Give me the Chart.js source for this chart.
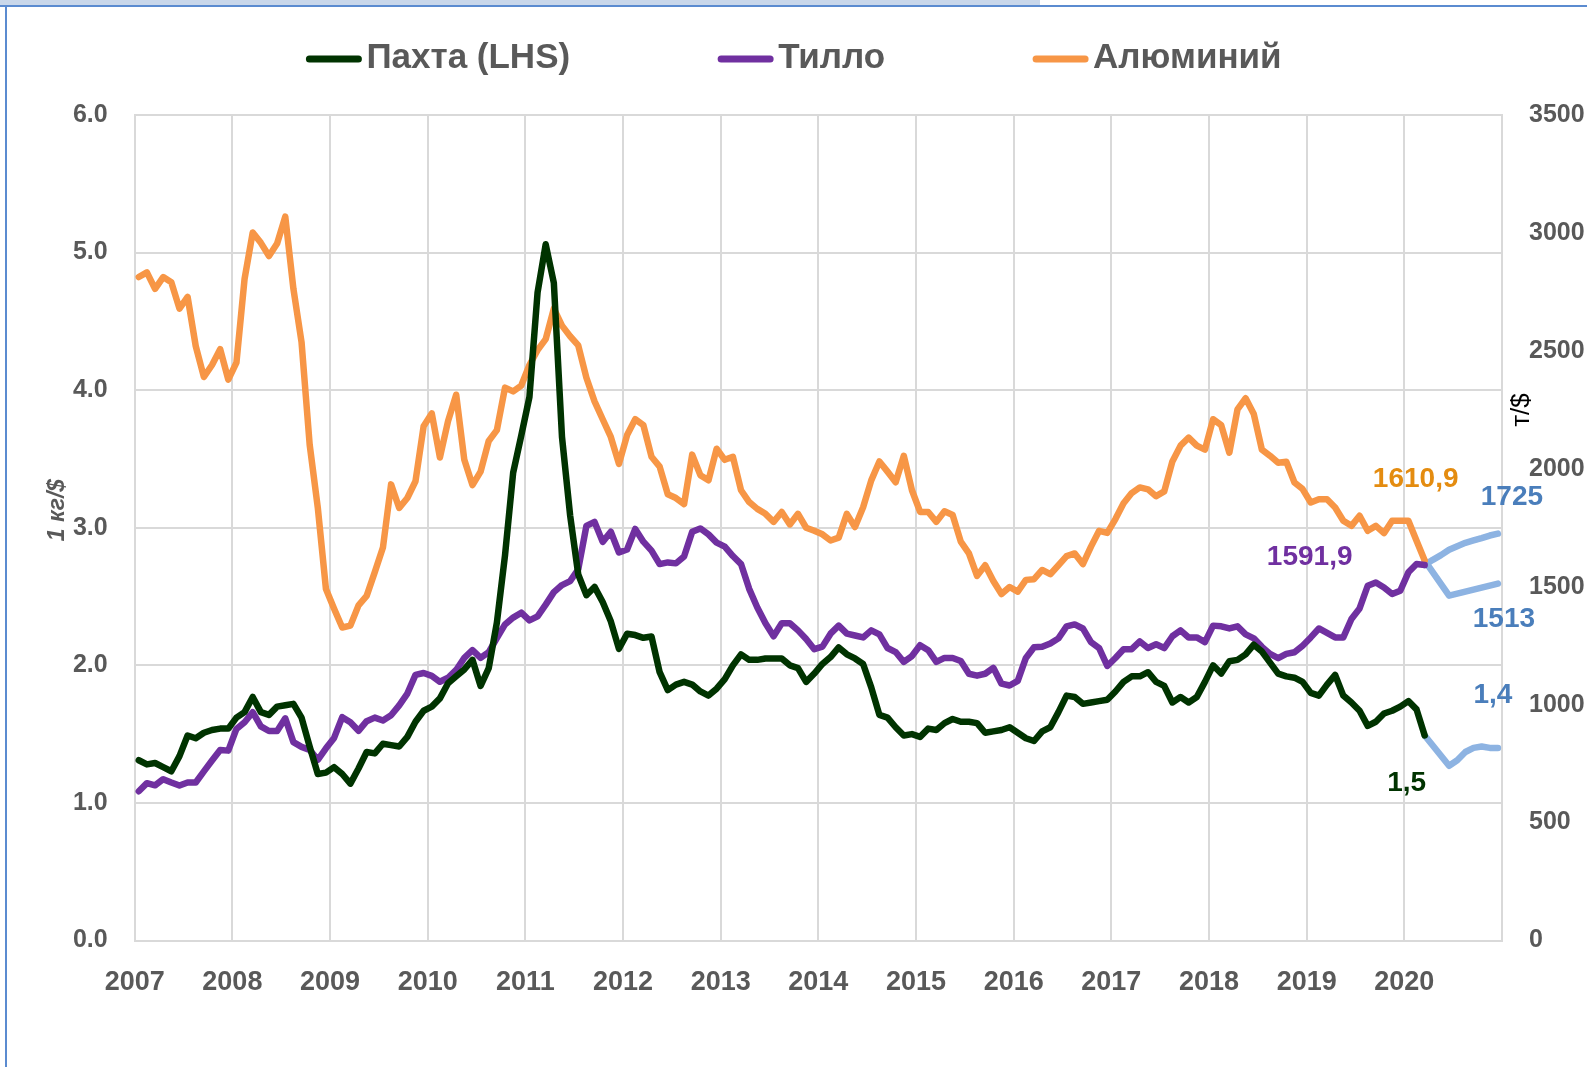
<!DOCTYPE html>
<html>
<head>
<meta charset="utf-8">
<script src="https://cdn.jsdelivr.net/npm/chart.js@4/dist/chart.umd.min.js"></script>
<style>
    body { margin: 0; background: #fff; }
    #wrap { position: relative; width: 1587px; height: 1067px; }
    .deco { position: absolute; }
</style>
</head>
<body>
<div id="wrap">
    <canvas id="chart" width="1587" height="1067"></canvas>
    <div class="deco" style="left:0;top:0;width:1040px;height:5px;background:#C9D7EA"></div>
    <div class="deco" style="left:0;top:5px;width:1587px;height:2px;background:#5B8BD0"></div>
    <div class="deco" style="left:5px;top:5px;width:2px;height:1062px;background:#5B8BD0"></div>
</div>
<script>
// помесячные данные, январь 2007 - март 2020
const FIRST_YEAR = 2007;
const LAST_YEAR = 2021;

// Пахта, $ за 1 кг (левая ось)
const cotton = [
    1.31, 1.28, 1.29, 1.26, 1.23, 1.34, 1.49, 1.47, 1.51, 1.53, 1.54, 1.54,
    1.62, 1.66, 1.77, 1.66, 1.64, 1.70, 1.71, 1.72, 1.62, 1.41, 1.21, 1.22,
    1.26, 1.21, 1.14, 1.25, 1.37, 1.36, 1.43, 1.42, 1.41, 1.48, 1.59, 1.67,
    1.70, 1.76, 1.87, 1.92, 1.97, 2.04, 1.85, 1.98, 2.31, 2.80, 3.40, 3.67,
    3.95, 4.71, 5.06, 4.78, 3.66, 3.09, 2.66, 2.51, 2.57, 2.46, 2.32, 2.12,
    2.23, 2.22, 2.20, 2.21, 1.95, 1.82, 1.86, 1.88, 1.86, 1.81, 1.78, 1.83,
    1.90, 2.00, 2.08, 2.04, 2.04, 2.05, 2.05, 2.05, 2.00, 1.98, 1.88, 1.94,
    2.01, 2.06, 2.13, 2.08, 2.05, 2.01, 1.84, 1.64, 1.62, 1.55, 1.49, 1.50,
    1.48, 1.54, 1.53, 1.58, 1.61, 1.59, 1.59, 1.58, 1.51, 1.52, 1.53, 1.55,
    1.51, 1.47, 1.45, 1.52, 1.55, 1.66, 1.78, 1.77, 1.72, 1.73, 1.74, 1.75,
    1.81, 1.88, 1.92, 1.92, 1.95, 1.88, 1.85, 1.73, 1.77, 1.73, 1.77, 1.88,
    2.00, 1.94, 2.03, 2.04, 2.08, 2.15, 2.10, 2.02, 1.94, 1.92, 1.91, 1.88,
    1.80, 1.78, 1.86, 1.93, 1.78, 1.73, 1.67, 1.56, 1.59, 1.65, 1.67, 1.70,
    1.74, 1.68, 1.49
];

// Тилло, $ за унцию (правая ось)
const gold = [
    633, 667, 658, 684, 670, 657, 670, 670, 717, 763, 808, 805,
    897, 925, 968, 908, 888, 888, 942, 841, 821, 808, 766, 815,
    859, 947, 925, 889, 930, 945, 933, 955, 997, 1047, 1126, 1134,
    1122, 1097, 1114, 1147, 1198, 1231, 1198, 1223, 1282, 1340, 1369, 1390,
    1357, 1374, 1424, 1477, 1507, 1524, 1574, 1758, 1775, 1690, 1733, 1645,
    1658, 1745, 1691, 1653, 1596, 1603, 1599, 1628, 1733, 1747, 1722, 1687,
    1670, 1630, 1596, 1491, 1412, 1345, 1290, 1345, 1345, 1315, 1278, 1235,
    1246, 1301, 1335, 1301, 1293, 1285, 1315, 1298, 1240, 1223, 1181, 1206,
    1252, 1231, 1181, 1198, 1198, 1185, 1131, 1123, 1131, 1156, 1089, 1081,
    1101, 1198, 1243, 1245, 1259, 1281, 1332, 1340, 1323, 1265, 1240, 1164,
    1198, 1235, 1235, 1268, 1240, 1256, 1240, 1290, 1315, 1285, 1285, 1265,
    1335, 1332, 1323, 1332, 1298, 1281, 1245, 1215, 1197, 1215, 1222, 1250,
    1285, 1323, 1304, 1285, 1285, 1363, 1408, 1504, 1518, 1497, 1469, 1483,
    1561, 1596, 1591.9
];

// Алюминий, $ за тонну (правая ось)
const aluminium = [
    2813, 2833, 2763, 2813, 2791, 2679, 2729, 2520, 2389, 2440, 2507, 2378,
    2450, 2805, 3002, 2958, 2902, 2955, 3069, 2763, 2537, 2102, 1834, 1490,
    1407, 1327, 1335, 1421, 1461, 1562, 1666, 1934, 1834, 1876, 1947, 2180,
    2235, 2048, 2202, 2314, 2038, 1931, 1988, 2118, 2164, 2344, 2328, 2353,
    2440, 2503, 2550, 2679, 2607, 2562, 2523, 2386, 2286, 2210, 2135, 2021,
    2143, 2210, 2185, 2051, 2009, 1892, 1876, 1850, 2060, 1973, 1951, 2085,
    2038, 2051, 1909, 1859, 1830, 1809, 1775, 1817, 1764, 1809, 1750, 1737,
    1722, 1696, 1708, 1809, 1753, 1837, 1951, 2031, 1988, 1943, 2055, 1909,
    1817, 1817, 1775, 1820, 1804, 1691, 1641, 1546, 1591, 1524, 1469, 1499,
    1479, 1529, 1532, 1571, 1553, 1591, 1630, 1641, 1596, 1670, 1737, 1728,
    1787, 1854, 1897, 1921, 1913, 1884, 1904, 2031, 2098, 2132, 2098, 2081,
    2210, 2185, 2068, 2252, 2299, 2232, 2081, 2055, 2026, 2030, 1942, 1914,
    1857, 1871, 1871, 1836, 1780, 1758, 1801, 1737, 1758, 1727, 1780, 1780,
    1780, 1695, 1610.9
];

// прогноз, март - декабрь 2020 (null - прямой отрезок на графике)
const FORECAST_START = 158;
const cottonForecast = [1.49, null, null, 1.27, 1.31, 1.37, 1.40, 1.41, 1.40, 1.40];
const goldForecast = [1591.9, 1614, 1634, 1657, 1672, 1686, 1696, 1706, 1717, 1725];
const aluminiumForecast = [1610.9, null, null, 1462, null, null, null, null, null, 1513];

const seriesNames = ['Пахта (LHS)', 'Тилло', 'Алюминий'];

const COLORS = {
    cotton: '#003300',
    gold: '#7030A0',
    aluminium: '#F79646',
    forecast: '#8DB3E2',
    text: '#595959',
    grid: '#D9D9D9'
};
const FONT = '"Liberation Sans", Arial, sans-serif';

// индекс месяца -> позиция на оси лет (середина месяца)
function toPoints(values, offset) {
    return values.map((v, i) => ({ x: FIRST_YEAR + (offset + i + 0.5) / 12, y: v }));
}

// подписи последних значений
const pointLabels = [
    { dataset: 0, index: 158, text: '1,5', color: '#003300', dx: -18, dy: 48 },
    { dataset: 1, index: 158, text: '1591,9', color: '#7030A0', dx: -115, dy: -8 },
    { dataset: 2, index: 158, text: '1610,9', color: '#E48C10', dx: -9, dy: -81 },
    { dataset: 3, index: 9, text: '1,4', color: '#4A7EBB', dx: -5, dy: -53 },
    { dataset: 4, index: 9, text: '1725', color: '#4A7EBB', dx: 14, dy: -36 },
    { dataset: 5, index: 9, text: '1513', color: '#4A7EBB', dx: 6, dy: 36 }
];

const labelPlugin = {
    id: 'pointLabels',
    afterDatasetsDraw(chart) {
        const ctx = chart.ctx;
        ctx.save();
        ctx.font = 'bold 28px ' + FONT;
        ctx.textAlign = 'center';
        ctx.textBaseline = 'middle';
        pointLabels.forEach(l => {
            const el = chart.getDatasetMeta(l.dataset).data[l.index];
            if (!el) return;
            ctx.fillStyle = l.color;
            ctx.fillText(l.text, el.x + l.dx, el.y + l.dy);
        });
        ctx.restore();
    }
};

// легенда сверху и подписи осей
const legendPlugin = {
    id: 'topLegend',
    afterDraw(chart) {
        const ctx = chart.ctx;
        const items = chart.data.datasets.filter(d => d.inLegend);
        const markLen = 57, textGap = 4, itemGap = 147, y = 58;
        ctx.save();
        ctx.font = 'bold 35px ' + FONT;
        const widths = items.map(d => markLen + textGap + ctx.measureText(d.label).width);
        const total = widths.reduce((a, b) => a + b, 0) + itemGap * (items.length - 1);
        let x = (chart.width - total) / 2;
        items.forEach((d, i) => {
            ctx.strokeStyle = d.borderColor;
            ctx.lineWidth = 7;
            ctx.lineCap = 'round';
            ctx.beginPath();
            ctx.moveTo(x + 4, y + 1);
            ctx.lineTo(x + markLen - 4, y + 1);
            ctx.stroke();
            ctx.fillStyle = COLORS.text;
            ctx.textBaseline = 'middle';
            ctx.textAlign = 'left';
            ctx.fillText(d.label, x + markLen + textGap, y);
            x += widths[i] + itemGap;
        });

        const area = chart.chartArea;
        ctx.textAlign = 'center';
        ctx.textBaseline = 'middle';

        ctx.save();
        ctx.translate(area.left - 77, area.top + 395);
        ctx.rotate(-Math.PI / 2);
        ctx.font = 'italic bold 23px ' + FONT;
        ctx.fillStyle = COLORS.text;
        ctx.fillText('1 кг/$', 0, 0);
        ctx.restore();

        ctx.save();
        ctx.translate(area.right + 20, area.top + 295);
        ctx.rotate(-Math.PI / 2);
        ctx.font = '26px ' + FONT;
        ctx.fillStyle = '#000';
        ctx.fillText('т/$', 0, 0);
        ctx.restore();

        ctx.restore();
    }
};

function lineSet(label, values, offset, color, axis, inLegend) {
    return {
        label: label,
        data: toPoints(values, offset),
        borderColor: color,
        backgroundColor: color,
        yAxisID: axis,
        inLegend: inLegend,
        spanGaps: true
    };
}

const tickFont = { family: FONT, size: 25, weight: 'bold' };

new Chart(document.getElementById('chart'), {
    type: 'line',
    data: {
        datasets: [
            lineSet(seriesNames[0], cotton, 0, COLORS.cotton, 'y', true),
            lineSet(seriesNames[1], gold, 0, COLORS.gold, 'y1', true),
            lineSet(seriesNames[2], aluminium, 0, COLORS.aluminium, 'y1', true),
            lineSet('Пахта прогноз', cottonForecast, FORECAST_START, COLORS.forecast, 'y', false),
            lineSet('Тилло прогноз', goldForecast, FORECAST_START, COLORS.forecast, 'y1', false),
            lineSet('Алюминий прогноз', aluminiumForecast, FORECAST_START, COLORS.forecast, 'y1', false)
        ]
    },
    options: {
        responsive: false,
        animation: false,
        layout: { padding: { top: 115, left: 0, right: 0, bottom: 0 } },
        elements: {
            point: { radius: 0, hoverRadius: 0 },
            line: { borderWidth: 6.5, borderJoinStyle: 'round', borderCapStyle: 'round', tension: 0 }
        },
        plugins: {
            legend: { display: false },
            tooltip: { enabled: false }
        },
        scales: {
            x: {
                type: 'linear',
                min: FIRST_YEAR,
                max: LAST_YEAR,
                afterFit: s => { s.height = 126.5; },
                grid: { color: COLORS.grid, lineWidth: 2, drawTicks: false },
                border: { color: COLORS.grid, width: 2 },
                ticks: {
                    stepSize: 1,
                    autoSkip: false,
                    maxRotation: 0,
                    padding: 26,
                    color: COLORS.text,
                    font: { family: FONT, size: 27, weight: 'bold' },
                    callback: v => (v < LAST_YEAR ? String(v) : '')
                }
            },
            y: {
                position: 'left',
                min: 0,
                max: 6,
                afterFit: s => { s.width = 134.7; },
                grid: { color: COLORS.grid, lineWidth: 2, drawTicks: false },
                border: { color: COLORS.grid, width: 2 },
                ticks: {
                    stepSize: 1,
                    padding: 27,
                    color: COLORS.text,
                    font: tickFont,
                    callback: v => v.toFixed(1)
                }
            },
            y1: {
                position: 'right',
                min: 0,
                max: 3500,
                afterFit: s => { s.width = 85; },
                grid: { drawOnChartArea: false, drawTicks: false },
                border: { color: COLORS.grid, width: 2 },
                ticks: {
                    stepSize: 500,
                    padding: 27,
                    color: COLORS.text,
                    font: tickFont,
                    callback: v => String(v)
                }
            }
        }
    },
    plugins: [labelPlugin, legendPlugin]
});
</script>
</body>
</html>
